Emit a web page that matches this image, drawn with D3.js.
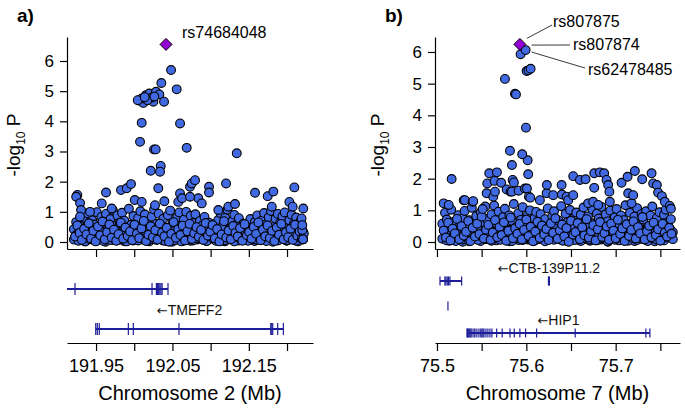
<!DOCTYPE html>
<html lang="en">
<head>
<meta charset="UTF-8">
<title>Regional association plots</title>
<script src="https://cdnjs.cloudflare.com/ajax/libs/d3/7.6.1/d3.min.js"></script>
<style>
  body { margin: 0; background: #fff; }
  svg { display: block; font-family: "Liberation Sans", Arial, Helvetica, sans-serif; }
</style>
</head>
<body>
<div id="chart"></div>
<script>
// ---- panel a: chromosome 2 ----
// [position Mb, -log10 P], lower carpet of SNPs
const baseSnpsA = [
  [191.921,0.08],[191.921,0.42],[191.924,0.22],[191.924,0.66],[191.927,0.04],[191.927,0.31],
  [191.930,0.15],[191.930,0.52],[191.933,0.27],[191.933,0.81],[191.936,0.02],[191.936,0.47],
  [191.939,0.19],[191.939,0.95],[191.942,0.09],[191.942,0.38],[191.945,0.31],[191.945,0.72],
  [191.948,0.05],[191.948,0.58],[191.951,0.21],[191.951,0.99],[191.954,0.12],[191.954,0.44],
  [191.957,0.36],[191.957,0.83],[191.960,0.03],[191.960,0.61],[191.963,0.25],[191.963,0.93],
  [191.966,0.14],[191.966,0.49],[191.969,0.07],[191.969,0.76],[191.972,0.33],[191.972,1.05],
  [191.975,0.18],[191.975,0.55],[191.978,0.06],[191.978,0.88],[191.981,0.28],[191.981,0.64],
  [191.984,0.11],[191.984,0.97],[191.987,0.40],[191.987,0.71],[191.990,0.02],[191.990,0.35],
  [191.993,0.23],[191.993,1.10],[191.996,0.09],[191.996,0.57],[191.999,0.30],[191.999,0.86],
  [192.002,0.16],[192.002,0.46],[192.005,0.05],[192.005,0.79],[192.008,0.26],[192.008,1.02],
  [192.011,0.13],[192.011,0.53],[192.014,0.38],[192.014,0.91],[192.017,0.04],[192.017,0.67],
  [192.020,0.20],[192.020,0.41],[192.023,0.10],[192.023,0.84],[192.026,0.29],[192.026,1.08],
  [192.029,0.07],[192.029,0.60],[192.032,0.24],[192.032,0.94],[192.035,0.15],[192.035,0.50],
  [192.038,0.34],[192.038,0.77],[192.041,0.03],[192.041,0.45],[192.044,0.19],[192.044,0.89],
  [192.047,0.11],[192.047,1.04],[192.050,0.27],[192.050,0.62],[192.053,0.06],[192.053,0.37],
  [192.056,0.32],[192.056,0.81],[192.059,0.14],[192.059,0.98],[192.062,0.02],[192.062,0.56],
  [192.065,0.22],[192.065,0.74],[192.068,0.09],[192.068,1.00],[192.071,0.35],[192.071,0.48],
  [192.074,0.17],[192.074,0.87],[192.077,0.05],[192.077,0.63],[192.080,0.26],[192.080,0.92],
  [192.083,0.12],[192.083,0.39],[192.086,0.30],[192.086,0.70],[192.089,0.08],[192.089,0.55],
  [192.092,0.21],[192.092,0.83],[192.095,0.03],[192.095,0.46],[192.098,0.18],[192.098,0.64],
  [192.101,0.28],[192.101,0.36],[192.104,0.10],[192.104,0.58],[192.107,0.04],[192.107,0.25],
  [192.110,0.24],[192.110,0.73],[192.113,0.13],[192.113,0.95],[192.116,0.33],[192.116,0.52],
  [192.119,0.06],[192.119,0.80],[192.122,0.20],[192.122,1.07],[192.125,0.11],[192.125,0.44],
  [192.128,0.37],[192.128,0.68],[192.131,0.02],[192.131,0.90],[192.134,0.25],[192.134,0.57],
  [192.137,0.14],[192.137,0.79],[192.140,0.08],[192.140,0.42],[192.143,0.29],[192.143,0.61],
  [192.146,0.16],[192.146,0.33],[192.149,0.04],[192.149,0.54],[192.152,0.22],[192.152,0.76],
  [192.155,0.10],[192.155,0.47],[192.158,0.31],[192.158,0.66],[192.161,0.07],[192.161,0.88],
  [192.164,0.19],[192.164,0.40],[192.167,0.35],[192.167,0.71],[192.170,0.12],[192.170,0.96],
  [192.173,0.03],[192.173,0.59],[192.176,0.27],[192.176,0.82],[192.179,0.15],[192.179,1.03],
  [192.182,0.09],[192.182,0.50],[192.185,0.32],[192.185,0.77],[192.188,0.05],[192.188,0.93],
  [192.191,0.23],[192.191,0.63],[192.194,0.13],[192.194,0.85],[192.197,0.38],[192.197,0.98],
  [192.200,0.06],[192.200,0.45],[192.203,0.21],[192.203,0.72],[192.206,0.11],[192.206,0.90],
  [192.209,0.30],[192.209,0.60],[192.212,0.04],[192.212,0.81],[192.215,0.17],[192.215,0.52],
  [192.218,0.26],[192.218,0.70],[192.221,0.08],[192.221,0.33]
];
// extra low-signal SNPs filling the carpet
const lowPosA = [
  191.9225,191.9255,191.9285,191.9315,191.9345,191.9375,191.9405,191.9435,191.9465,191.9495,
  191.9525,191.9555,191.9585,191.9615,191.9645,191.9675,191.9705,191.9735,191.9765,191.9795,
  191.9825,191.9855,191.9885,191.9915,191.9945,191.9975,192.0005,192.0035,192.0065,192.0095,
  192.0125,192.0155,192.0185,192.0215,192.0245,192.0275,192.0305,192.0335,192.0365,192.0395,
  192.0425,192.0455,192.0485,192.0515,192.0545,192.0575,192.0605,192.0635,192.0665,192.0695,
  192.0725,192.0755,192.0785,192.0815,192.0845,192.0875,192.0905,192.0935,192.0965,192.0995,
  192.1025,192.1055,192.1085,192.1115,192.1145,192.1175,192.1205,192.1235,192.1265,192.1295,
  192.1325,192.1355,192.1385,192.1415,192.1445,192.1475,192.1505,192.1535,192.1565,192.1595,
  192.1625,192.1655,192.1685,192.1715,192.1745,192.1775,192.1805,192.1835,192.1865,192.1895,
  192.1925,192.1955,192.1985,192.2015,192.2045,192.2075,192.2105,192.2135,192.2165,192.2195,192.2220
];
const lowLogpA = [
  0.18,0.55,0.30,0.07,0.44,0.25,0.62,0.12,0.37,0.02,0.51,0.22,0.68,0.09,0.33,0.58,0.15,0.41,0.04,0.26,
  0.64,0.11,0.48,0.20,0.35,0.06,0.57,0.28,0.13,0.45,0.70,0.03,0.24,0.52,0.16,0.39,0.08,0.61,0.31,0.19,
  0.47,0.01,0.27,0.66,0.14,0.42,0.23,0.54,0.05,0.36,0.60,0.10,0.29,0.49,0.17,0.40,0.07,0.63,0.21,0.34,
  0.56,0.12,0.43,0.02,0.25,0.69,0.15,0.38,0.09,0.53,0.30,0.18,0.46,0.04,0.59,0.22,0.33,0.11,0.50,0.27,
  0.65,0.06,0.41,0.19,0.55,0.13,0.37,0.03,0.48,0.24,0.60,0.09,0.32,0.16,0.44,0.07,0.57,0.21,0.35,0.12,0.28
];
const floorPosA = [
  191.9235,191.9265,191.9295,191.9325,191.9355,191.9385,191.9415,191.9445,191.9475,191.9505,
  191.9535,191.9565,191.9595,191.9625,191.9655,191.9685,191.9715,191.9745,191.9775,191.9805,
  191.9835,191.9865,191.9895,191.9925,191.9955,191.9985,192.0015,192.0045,192.0075,192.0105,
  192.0135,192.0165,192.0195,192.0225,192.0255,192.0285,192.0315,192.0345,192.0375,192.0405,
  192.0435,192.0465,192.0495,192.0525,192.0555,192.0585,192.0615,192.0645,192.0675,192.0705,
  192.0735,192.0765,192.0795,192.0825,192.0855,192.0885,192.0915,192.0945,192.0975,192.1005,
  192.1035,192.1065,192.1095,192.1125,192.1155,192.1185,192.1215,192.1245,192.1275,192.1305,
  192.1335,192.1365,192.1395,192.1425,192.1455,192.1485,192.1515,192.1545,192.1575,192.1605,
  192.1635,192.1665,192.1695,192.1725,192.1755,192.1785,192.1815,192.1845,192.1875,192.1905,
  192.1935,192.1965,192.1995,192.2025,192.2055,192.2085,192.2115,192.2145,192.2175,192.2205
];
const floorLogpA = [
  0.21,0.06,0.34,0.13,0.02,0.27,0.09,0.40,0.17,0.04,
  0.30,0.11,0.23,0.01,0.36,0.15,0.07,0.26,0.42,0.10,
  0.19,0.03,0.31,0.14,0.24,0.05,0.38,0.12,0.28,0.08,
  0.16,0.33,0.02,0.22,0.43,0.09,0.18,0.29,0.05,0.35,
  0.12,0.25,0.01,0.20,0.37,0.07,0.15,0.32,0.10,0.27,
  0.04,0.39,0.18,0.08,0.24,0.13,0.30,0.03,0.21,0.41,
  0.11,0.26,0.06,0.34,0.16,0.02,0.29,0.09,0.23,0.36,
  0.14,0.05,0.31,0.19,0.07,0.40,0.12,0.27,0.03,0.22,
  0.33,0.10,0.17,0.06,0.37,0.25,0.01,0.15,0.30,0.08,
  0.20,0.35,0.04,0.13,0.28,0.09,0.24,0.02,0.18,0.11
];
// stronger signals above the carpet
const peakSnpsA = [
  [191.9255,1.56],[191.9240,1.50],[191.9291,1.29],[191.9304,1.06],[191.9290,0.84],[191.9421,1.00],
  [191.9575,1.28],[191.9631,1.64],[191.9705,1.11],[191.9827,1.72],[191.9902,1.78],[191.9958,1.92],
  [192.0007,1.39],[192.0098,1.33],[192.0272,1.22],[192.0315,1.78],[192.0394,1.35],
  [192.0216,2.36],[192.0347,2.52],[192.0338,2.33],
  [192.0076,3.32],[192.0259,3.07],[192.0281,3.07],[192.0687,3.12],[192.1342,2.94],
  [192.0098,3.95],[192.0600,3.93],
  [192.0076,4.68],[192.0119,4.61],[192.0154,4.87],[192.0198,4.92],[192.0250,4.65],[192.0285,4.98],
  [192.0329,4.89],[192.0390,4.65],[192.0229,4.79],[192.0172,4.70],[192.0098,4.76],[192.0046,4.70],
  [192.0137,4.80],[192.0264,4.82],
  [192.0355,5.27],[192.0482,5.70],[192.0556,5.06],
  [192.0600,1.61],[192.0577,1.33],[192.0626,1.45],[192.0730,1.83],[192.0753,1.94],[192.0796,2.05],
  [192.0839,1.45],[192.0730,1.50],[192.0884,1.28],[192.0979,1.83],[192.0979,1.64],[192.1101,1.06],
  [192.1202,1.94],[192.1232,1.17],[192.1319,1.26],[192.1581,1.63],[192.1747,1.52],[192.1821,1.67],
  [192.1800,1.17],[192.2031,1.33],[192.2074,1.17],[192.2096,1.81],[192.2213,1.11],[192.2190,0.78],
  [192.2200,0.40],[192.2210,0.09],[192.2200,0.56]
];
const leadSnpA = { id: "rs74684048", pos: 192.0416, logp: 6.55 };
const ticksA = [191.95, 192.00, 192.05, 192.10, 192.15, 192.20];
const tickLabelsA = ["191.95", "", "192.05", "", "192.15", ""];
const genesA = [
  { name: null, row: 0, start: 191.905, end: 192.0442,
    exons: [191.9225, 192.0233, 192.0290, 192.0305, 192.0320, 192.0335, 192.0350, 192.0365, 192.0442] },
  { name: "TMEFF2", row: 1, start: 191.9496, end: 192.1952,
    exons: [191.9496, 191.9517, 191.9543, 191.9923, 191.9988, 192.0586, 192.1787, 192.1800, 192.1813, 192.1878, 192.1952] }
];

// ---- panel b: chromosome 7 ----
const baseSnpsB = [
  [75.506,0.10],[75.506,0.58],[75.509,0.33],[75.509,0.92],[75.511,0.05],[75.511,0.71],
  [75.514,0.21],[75.514,0.47],[75.516,0.12],[75.516,1.02],[75.519,0.38],[75.519,0.64],
  [75.521,0.03],[75.521,0.29],[75.524,0.17],[75.524,0.85],[75.526,0.26],[75.526,0.53],
  [75.529,0.08],[75.529,0.76],[75.531,0.31],[75.531,0.98],[75.534,0.14],[75.534,0.44],
  [75.536,0.02],[75.536,0.69],[75.539,0.24],[75.539,1.08],[75.541,0.11],[75.541,0.57],
  [75.544,0.35],[75.544,0.82],[75.546,0.06],[75.546,0.40],[75.549,0.19],[75.549,0.94],
  [75.551,0.28],[75.551,0.62],[75.554,0.09],[75.554,1.12],[75.556,0.36],[75.556,0.73],
  [75.559,0.15],[75.559,0.50],[75.561,0.04],[75.561,0.87],[75.564,0.23],[75.564,1.15],
  [75.566,0.13],[75.566,0.60],[75.569,0.32],[75.569,0.96],[75.571,0.07],[75.571,0.45],
  [75.574,0.20],[75.574,0.79],[75.576,0.27],[75.576,1.05],[75.579,0.10],[75.579,0.55],
  [75.581,0.39],[75.581,0.84],[75.584,0.03],[75.584,0.67],[75.586,0.18],[75.586,1.20],
  [75.589,0.25],[75.589,0.48],[75.591,0.12],[75.591,0.91],[75.594,0.34],[75.594,0.70],
  [75.596,0.06],[75.596,1.10],[75.599,0.22],[75.599,0.58],[75.601,0.14],[75.601,0.83],
  [75.604,0.30],[75.604,1.00],[75.606,0.05],[75.606,0.42],[75.609,0.19],[75.609,0.75],
  [75.611,0.27],[75.611,0.95],[75.614,0.09],[75.614,0.61],[75.616,0.37],[75.616,0.88],
  [75.619,0.13],[75.619,0.37],[75.621,0.02],[75.621,0.72],[75.624,0.24],[75.624,1.06],
  [75.626,0.16],[75.626,0.51],[75.629,0.33],[75.629,0.80],[75.631,0.07],[75.631,0.97],
  [75.634,0.21],[75.634,0.46],[75.636,0.11],[75.636,0.68],[75.639,0.29],[75.639,1.13],
  [75.641,0.04],[75.641,0.56],[75.644,0.18],[75.644,0.89],[75.646,0.35],[75.646,0.63],
  [75.649,0.10],[75.649,1.01],[75.651,0.25],[75.651,0.43],[75.654,0.06],[75.654,0.77],
  [75.656,0.31],[75.656,0.93],[75.659,0.15],[75.659,0.54],[75.661,0.03],[75.661,0.86],
  [75.664,0.22],[75.664,1.09],[75.666,0.12],[75.666,0.66],[75.669,0.38],[75.669,0.81],
  [75.671,0.08],[75.671,0.49],[75.674,0.20],[75.674,1.03],[75.676,0.28],[75.676,0.59],
  [75.679,0.05],[75.679,0.90],[75.681,0.17],[75.681,0.74],[75.684,0.34],[75.684,1.11],
  [75.686,0.11],[75.686,0.52],[75.689,0.23],[75.689,0.87],[75.691,0.02],[75.691,0.65],
  [75.694,0.30],[75.694,0.99],[75.696,0.14],[75.696,0.41],[75.699,0.07],[75.699,0.78],
  [75.701,0.26],[75.701,1.04],[75.704,0.16],[75.704,0.57],[75.706,0.36],[75.706,0.84],
  [75.709,0.09],[75.709,0.69],[75.711,0.19],[75.711,1.16],[75.714,0.04],[75.714,0.47],
  [75.716,0.27],[75.716,0.92],[75.719,0.13],[75.719,0.62],[75.721,0.32],[75.721,0.80],
  [75.724,0.06],[75.724,1.07],[75.726,0.21],[75.726,0.53],[75.729,0.10],[75.729,0.88],
  [75.731,0.37],[75.731,0.71],[75.734,0.15],[75.734,0.97],[75.736,0.03],[75.736,0.45],
  [75.739,0.24],[75.739,0.83],[75.741,0.12],[75.741,1.12],[75.744,0.29],[75.744,0.60],
  [75.746,0.08],[75.746,0.76],[75.749,0.18],[75.749,0.94],[75.751,0.33],[75.751,0.50],
  [75.754,0.05],[75.754,0.86],[75.756,0.22],[75.756,1.02],[75.759,0.14],[75.759,0.64],
  [75.761,0.27],[75.761,0.40],[75.764,0.09],[75.764,0.31]
];
const lowPosB = [
  75.5075,75.5100,75.5125,75.5150,75.5175,75.5200,75.5225,75.5250,75.5275,75.5300,
  75.5325,75.5350,75.5375,75.5400,75.5425,75.5450,75.5475,75.5500,75.5525,75.5550,
  75.5575,75.5600,75.5625,75.5650,75.5675,75.5700,75.5725,75.5750,75.5775,75.5800,
  75.5825,75.5850,75.5875,75.5900,75.5925,75.5950,75.5975,75.6000,75.6025,75.6050,
  75.6075,75.6100,75.6125,75.6150,75.6175,75.6200,75.6225,75.6250,75.6275,75.6300,
  75.6325,75.6350,75.6375,75.6400,75.6425,75.6450,75.6475,75.6500,75.6525,75.6550,
  75.6575,75.6600,75.6625,75.6650,75.6675,75.6700,75.6725,75.6750,75.6775,75.6800,
  75.6825,75.6850,75.6875,75.6900,75.6925,75.6950,75.6975,75.7000,75.7025,75.7050,
  75.7075,75.7100,75.7125,75.7150,75.7175,75.7200,75.7225,75.7250,75.7275,75.7300,
  75.7325,75.7350,75.7375,75.7400,75.7425,75.7450,75.7475,75.7500,75.7525,75.7550,
  75.7575,75.7600,75.7625
];
const lowLogpB = [
  0.36,0.14,0.61,0.05,0.42,0.27,0.73,0.09,0.50,0.20,
  0.32,0.66,0.03,0.45,0.17,0.58,0.25,0.80,0.11,0.39,
  0.54,0.07,0.30,0.69,0.15,0.47,0.22,0.62,0.04,0.35,
  0.77,0.12,0.43,0.26,0.57,0.08,0.38,0.71,0.19,0.48,
  0.02,0.33,0.64,0.13,0.52,0.24,0.41,0.06,0.59,0.29,
  0.75,0.10,0.37,0.55,0.18,0.44,0.01,0.67,0.23,0.31,
  0.60,0.09,0.46,0.21,0.72,0.14,0.34,0.53,0.05,0.40,
  0.63,0.16,0.28,0.49,0.07,0.58,0.36,0.12,0.70,0.25,
  0.43,0.03,0.56,0.19,0.38,0.65,0.11,0.47,0.27,0.79,
  0.08,0.34,0.51,0.15,0.61,0.22,0.40,0.04,0.57,0.30,
  0.17,0.45,0.26
];
const floorPosB = [
  75.5088,75.5113,75.5138,75.5163,75.5188,75.5213,75.5238,75.5263,75.5288,75.5313,
  75.5338,75.5363,75.5388,75.5413,75.5438,75.5463,75.5488,75.5513,75.5538,75.5563,
  75.5588,75.5613,75.5638,75.5663,75.5688,75.5713,75.5738,75.5763,75.5788,75.5813,
  75.5838,75.5863,75.5888,75.5913,75.5938,75.5963,75.5988,75.6013,75.6038,75.6063,
  75.6088,75.6113,75.6138,75.6163,75.6188,75.6213,75.6238,75.6263,75.6288,75.6313,
  75.6338,75.6363,75.6388,75.6413,75.6438,75.6463,75.6488,75.6513,75.6538,75.6563,
  75.6588,75.6613,75.6638,75.6663,75.6688,75.6713,75.6738,75.6763,75.6788,75.6813,
  75.6838,75.6863,75.6888,75.6913,75.6938,75.6963,75.6988,75.7013,75.7038,75.7063,
  75.7088,75.7113,75.7138,75.7163,75.7188,75.7213,75.7238,75.7263,75.7288,75.7313,
  75.7338,75.7363,75.7388,75.7413,75.7438,75.7463,75.7488,75.7513,75.7538,75.7563
];
const floorLogpB = [
  0.12,0.29,0.04,0.41,0.18,0.07,0.33,0.22,0.01,0.37,
  0.15,0.26,0.08,0.44,0.11,0.31,0.03,0.20,0.39,0.09,
  0.24,0.14,0.35,0.05,0.28,0.17,0.46,0.10,0.21,0.02,
  0.32,0.13,0.40,0.06,0.25,0.19,0.36,0.08,0.15,0.43,
  0.03,0.27,0.12,0.34,0.22,0.05,0.38,0.16,0.09,0.30,
  0.20,0.45,0.07,0.26,0.14,0.02,0.33,0.11,0.41,0.18,
  0.06,0.29,0.23,0.10,0.37,0.04,0.19,0.31,0.13,0.42,
  0.08,0.25,0.16,0.01,0.35,0.21,0.12,0.39,0.05,0.27,
  0.17,0.32,0.09,0.44,0.14,0.03,0.24,0.36,0.11,0.20,
  0.07,0.30,0.15,0.40,0.02,0.26,0.18,0.34,0.10,0.22
];
const peakSnpsB = [
  [75.5075,1.22],[75.5131,1.17],[75.5164,1.99],[75.5299,1.32],[75.5313,1.32],[75.5399,1.27],
  [75.5406,1.29],[75.5511,1.04],[75.5556,1.54],[75.5563,1.85],[75.5585,2.17],[75.5630,1.43],
  [75.5645,1.93],[75.5649,1.59],[75.5671,2.20],[75.5719,1.87],[75.5780,1.66],[75.5824,1.59],
  [75.5839,1.59],[75.5847,1.96],[75.5861,1.88],[75.5914,1.62],[75.5984,1.69],[75.6007,1.69],
  [75.6029,1.43],[75.6044,1.40],[75.6021,2.14],[75.5839,2.43],[75.6015,2.58],[75.5954,2.77],
  [75.5817,2.88],[75.5996,3.61],[75.5873,4.68],[75.5884,4.66],[75.5761,5.15],
  [75.6003,5.40],[75.6024,5.42],[75.6048,5.47],[75.5936,5.93],[75.5992,6.06],
  [75.6152,1.32],[75.6227,1.54],[75.6230,1.80],[75.6301,1.48],[75.6395,1.80],[75.6398,1.50],
  [75.6451,1.43],[75.6469,1.32],[75.6525,2.08],[75.6525,1.48],[75.6600,1.96],[75.6663,1.98],
  [75.6692,1.22],[75.6748,1.27],[75.6760,2.17],[75.6760,1.71],[75.6804,1.17],[75.6823,2.20],
  [75.6871,2.17],[75.6898,1.96],[75.6916,1.80],[75.6930,1.59],[75.6935,1.27],
  [75.7066,1.87],[75.7133,2.06],[75.7140,1.54],[75.7178,1.22],[75.7196,1.48],[75.7215,2.24],
  [75.7297,1.98],[75.7402,2.17],[75.7420,1.85],[75.7461,1.80],[75.7475,1.56],[75.7517,1.45],
  [75.7550,1.27],[75.7606,1.14],[75.7618,1.05],[75.7618,0.72]
];
const leadSnpB = { id: "rs807875", pos: 75.5928, logp: 6.24 };
const otherLabelsB = [
  { id: "rs807874", pos: 75.5992, logp: 6.06 },
  { id: "rs62478485", pos: 75.5992, logp: 6.06 }
];
const ticksB = [75.50, 75.55, 75.60, 75.65, 75.70, 75.75];
const tickLabelsB = ["75.5", "", "75.6", "", "75.7", ""];
const genesB = [
  { name: null, row: 0, start: 75.5034, end: 75.5276,
    exons: [75.5034, 75.5089, 75.5100, 75.5115, 75.5130, 75.5145, 75.5276] },
  { name: "CTB-139P11.2", row: 0, start: 75.6248, end: 75.6258,
    exons: [75.6248, 75.6253, 75.6258] },
  { name: null, row: 1, start: 75.5123, end: 75.5123, exons: [75.5123] },
  { name: "HIP1", row: 2, start: 75.5336, end: 75.7383,
    exons: [75.5336, 75.5342, 75.5350, 75.5360, 75.5369, 75.5380, 75.5392, 75.5414, 75.5425, 75.5447,
            75.5470, 75.5490, 75.5503, 75.5515, 75.5526, 75.5548, 75.5570, 75.5593, 75.5615,
            75.5668, 75.5730, 75.5817, 75.5865, 75.5928, 75.5992, 75.6115, 75.6547, 75.7338, 75.7383] }
];

const W = 685, H = 412;
const pointFill = "#4169e1", leadFill = "#9400d3", geneColor = "#1e1e9a";

const svg = d3.select("#chart").append("svg").attr("width", W).attr("height", H);

function drawPanel(cfg) {
  const g = svg.append("g");
  const x = d3.scaleLinear().domain(cfg.xDomain).range([cfg.left, cfg.right]);
  const y = d3.scaleLinear().domain(cfg.yDomain).range([249, 37]);

  // y axis
  g.append("g").attr("transform", `translate(${cfg.left},0)`)
    .call(d3.axisLeft(y).tickValues(d3.range(0, 7)).tickFormat(d3.format("d"))
      .tickSize(7).tickSizeOuter(0).tickPadding(6))
    .call(a => a.selectAll("text").attr("font-size", 17).attr("fill", "#000").attr("font-family", null))
    .call(a => a.selectAll("line,path").attr("stroke", "#000").attr("stroke-width", 1.2));

  // x axis under scatter (no labels)
  g.append("g").attr("transform", "translate(0,249)")
    .call(d3.axisBottom(x).tickValues(cfg.ticks).tickFormat("").tickSize(8).tickSizeOuter(0))
    .call(a => a.selectAll("line,path").attr("stroke", "#000").attr("stroke-width", 1.2));

  // y title
  const yt = g.append("text")
    .attr("transform", `translate(${cfg.yTitleX},145) rotate(-90)`)
    .attr("text-anchor", "middle").attr("font-size", 19);
  yt.append("tspan").text("-log");
  yt.append("tspan").attr("font-size", 12).attr("dy", 5).text("10");
  yt.append("tspan").attr("dy", -5).text(" P");

  // panel letter
  g.append("text").attr("x", cfg.letterX).attr("y", 22)
    .attr("font-size", 19).attr("font-weight", "bold").text(cfg.letter);

  // points
  const floor = cfg.floorPos.map((p, i) => [p, cfg.floorLogp[i]]);
  const low = cfg.lowPos.map((p, i) => [p, cfg.lowLogp[i]]);
  const pts = floor.concat(cfg.base, low, cfg.peak);
  g.append("g").selectAll("circle").data(pts).join("circle")
    .attr("cx", d => x(d[0])).attr("cy", d => y(d[1])).attr("r", 4.4)
    .attr("fill", pointFill).attr("stroke", "#000").attr("stroke-width", 1.1);

  // lead SNP diamond
  const lx = x(cfg.lead.pos), ly = y(cfg.lead.logp);
  g.append("path")
    .attr("d", `M${lx},${ly - 6}L${lx + 6},${ly}L${lx},${ly + 6}L${lx - 6},${ly}Z`)
    .attr("fill", leadFill).attr("stroke", "#000").attr("stroke-width", 1);

  cfg.annotate(g, x, y);

  // gene track
  const gt = g.append("g");
  gt.append("defs").append("clipPath").attr("id", "clip" + cfg.letter[0])
    .append("rect").attr("x", cfg.left).attr("y", 260).attr("width", cfg.right - cfg.left).attr("height", 80);
  const gg = gt.append("g").attr("clip-path", `url(#clip${cfg.letter[0]})`);
  cfg.genes.forEach(gene => {
    const gy = cfg.rowY[gene.row];
    if (gene.end > gene.start) {
      gg.append("line").attr("x1", x(gene.start)).attr("x2", x(gene.end))
        .attr("y1", gy).attr("y2", gy).attr("stroke", geneColor).attr("stroke-width", 2);
    }
    gg.selectAll(null).data(gene.exons).join("line")
      .attr("x1", d => x(d)).attr("x2", d => x(d))
      .attr("y1", gy - cfg.exonH).attr("y2", gy + cfg.exonH)
      .attr("stroke", geneColor).attr("stroke-width", 1.2);
    if (gene.name) {
      const t = gt.append("text").attr("x", x((gene.start + gene.end) / 2)).attr("y", gy - cfg.labelGap)
        .attr("text-anchor", "middle").attr("font-size", 14).attr("fill", "#111");
      t.append("tspan").attr("font-family", "DejaVu Sans").attr("font-size", 13).text("\u2190");
      t.append("tspan").text(gene.name);
    }
  });

  // gene track axis
  g.append("g").attr("transform", "translate(0,343)")
    .call(d3.axisBottom(x).tickValues(cfg.ticks).tickFormat((d, i) => cfg.tickLabels[i])
      .tickSize(8).tickSizeOuter(0).tickPadding(8))
    .call(a => a.selectAll("text").attr("font-size", 18).attr("fill", "#000").attr("font-family", null))
    .call(a => a.selectAll("line,path").attr("stroke", "#000").attr("stroke-width", 1.2));

  g.append("text").attr("x", (cfg.left + cfg.right) / 2).attr("y", 400)
    .attr("text-anchor", "middle").attr("font-size", 20).text(cfg.xTitle);
}

drawPanel({
  letter: "a)", letterX: 17, left: 67, right: 313, yTitleX: 20,
  xDomain: [191.912, 192.234], yDomain: [-0.232, 6.795],
  base: baseSnpsA, lowPos: lowPosA, lowLogp: lowLogpA, floorPos: floorPosA, floorLogp: floorLogpA,
  peak: peakSnpsA, lead: leadSnpA,
  ticks: ticksA, tickLabels: tickLabelsA, genes: genesA,
  rowY: [289, 329], exonH: 6, labelGap: 14,
  xTitle: "Chromosome 2 (Mb)",
  annotate: (g, x, y) => {
    g.append("text").attr("x", x(leadSnpA.pos) + 16).attr("y", y(leadSnpA.logp) - 6)
      .attr("font-size", 16).text(leadSnpA.id);
  }
});

drawPanel({
  letter: "b)", letterX: 385, left: 435, right: 680, yTitleX: 384,
  xDomain: [75.4978, 75.772], yDomain: [-0.221, 6.473],
  base: baseSnpsB, lowPos: lowPosB, lowLogp: lowLogpB, floorPos: floorPosB, floorLogp: floorLogpB,
  peak: peakSnpsB, lead: leadSnpB,
  ticks: ticksB, tickLabels: tickLabelsB, genes: genesB,
  rowY: [281, 306, 333], exonH: 4.5, labelGap: 8,
  xTitle: "Chromosome 7 (Mb)",
  annotate: (g, x, y) => {
    const lx = x(leadSnpB.pos), ly = y(leadSnpB.logp);
    const px = x(otherLabelsB[0].pos), py = y(otherLabelsB[0].logp);
    const lines = [
      { from: [lx + 7, ly - 6], to: [552, 25], text: leadSnpB.id, tx: 553, ty: 27 },
      { from: [px + 6, py - 5], to: [570, 45], text: otherLabelsB[0].id, tx: 573, ty: 50 },
      { from: [px + 6, py + 2], to: [585, 68], text: otherLabelsB[1].id, tx: 588, ty: 75 }
    ];
    lines.forEach(l => {
      g.append("line").attr("x1", l.from[0]).attr("y1", l.from[1]).attr("x2", l.to[0]).attr("y2", l.to[1])
        .attr("stroke", "#222").attr("stroke-width", 0.9);
      g.append("text").attr("x", l.tx).attr("y", l.ty).attr("font-size", 16).text(l.text);
    });
  }
});
</script>
</body>
</html>
